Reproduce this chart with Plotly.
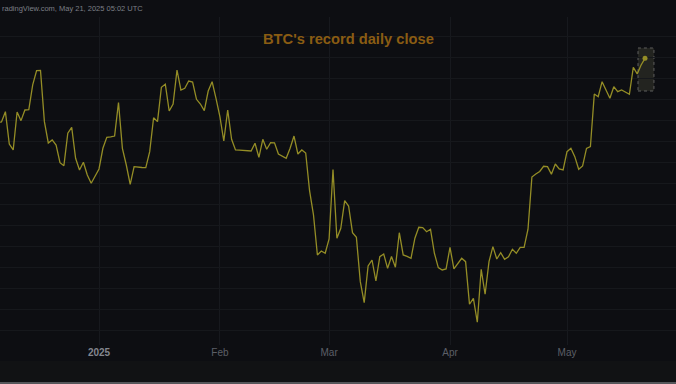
import pandas as pd
import plotly.graph_objects as go

# Daily closes (USD)
dec_2024 = [99820, 99880, 101110, 97260, 96550, 101070, 100040, 101310, 101350, 104290,
            105990, 106030, 99920, 97380, 97740, 97140, 95040, 94680, 98540, 99250,
            95560, 94170, 95080, 93570, 92580, 93370]  # Dec 6 - Dec 31
jan_2025 = [94290, 96750, 98060, 98100, 98210, 102200, 96750, 94760, 92460, 94560,
            94490, 94460, 94440, 96350, 100390, 99920, 104010, 104370, 101190, 102020,
            106070, 103690, 103890, 104760, 104640, 102580, 102020, 101230, 103570, 104680,
            102700]
feb_2025 = [100510, 97620, 101310, 97820, 96550, 96520, 96490, 96450, 96430, 97350,
            95680, 97820, 96630, 97420, 97400, 96070, 95830, 95560, 96750, 98210,
            96070, 96550, 96190, 91670, 88810, 84050, 84520, 84250]
mar_2025 = [85950, 94230, 86040, 87230, 90510, 89880, 86700, 86150, 80870, 78370,
            82740, 83450, 80950, 83840, 84170, 82460, 83860, 82580, 86700, 84050,
            83870, 83650, 86040, 87350, 87300, 86820, 87110, 84250, 82540, 82260,
            82380]
apr_2025 = [84960, 82400, 83060, 83650, 83250, 78180, 78890, 76040, 82340, 79370,
            83250, 85040, 83570, 84320, 83540, 83840, 84730, 84250, 84960, 84950,
            87110, 93330, 93690, 93990, 94610, 94560, 93670, 94880, 94290, 94170]
may_2025 = [96350, 96750, 95750, 94250, 94640, 96730, 96940, 103210, 102890, 104680,
            103690, 102700, 104080, 103490, 103700, 103420, 103180, 106390, 105600, 106670,
            107460]

closes = dec_2024 + jan_2025 + feb_2025 + mar_2025 + apr_2025 + may_2025
dates = pd.date_range("2024-12-06", periods=len(closes), freq="D")

tick_vals = ["2025-01-01", "2025-02-01", "2025-03-01", "2025-04-01", "2025-05-01"]
tick_text = ['<span style="color:#83868e"><b>2025</b></span>', "Feb", "Mar", "Apr", "May"]

title_text = "BTC's record daily close"
stamp_text = "radingView.com, May 21, 2025 05:02 UTC"

box_x = ["2025-05-19 05:00", "2025-05-23 07:00"]
box_y = [103570, 108690]

LINE = "#948d26"
PANE = "#0d0e12"

fig = go.Figure()
fig.add_trace(go.Scatter(x=dates, y=closes, mode="lines",
                         line=dict(color=LINE, width=1.3), hoverinfo="skip"))
fig.add_trace(go.Scatter(x=[dates[-1]], y=[closes[-1]], mode="markers",
                         marker=dict(color=LINE, size=5), hoverinfo="skip"))

fig.add_shape(type="rect", xref="x", yref="y", x0=box_x[0], x1=box_x[1],
              y0=box_y[0], y1=box_y[1], fillcolor="rgba(70,70,55,0.4)",
              line=dict(color="#5e5e5e", width=1, dash="dot"), layer="below")

# bottom strip and border
fig.add_shape(type="rect", xref="paper", yref="paper", x0=0, x1=1,
              y0=-(384 - 345) / 328, y1=-(361 - 345) / 328,
              fillcolor="#111214", line=dict(width=0), layer="below")
fig.add_shape(type="line", xref="paper", yref="paper", x0=0, x1=1,
              y0=-(383 - 345) / 328, y1=-(383 - 345) / 328,
              line=dict(color="#55565a", width=2))

fig.add_annotation(text=title_text, xref="paper", yref="paper",
                   x=348.5 / 676, y=1 - (39 - 17) / 328, xanchor="center", yanchor="middle",
                   showarrow=False,
                   font=dict(family="Liberation Sans, Arial", size=14.7, color="#8a5c12", weight="bold"))
fig.add_annotation(text=stamp_text, xref="paper", yref="paper",
                   x=0, y=1 + (17 - 8) / 328, xanchor="left", yanchor="middle",
                   showarrow=False,
                   font=dict(family="Liberation Sans, Arial", size=7.5, color="#7c7f86"))

fig.update_layout(
    width=676, height=384,
    margin=dict(l=0, r=0, t=17, b=39),
    paper_bgcolor=PANE, plot_bgcolor=PANE,
    showlegend=False,
    xaxis=dict(range=["2024-12-06 14:46", "2025-05-28 22:46"], tickvals=tick_vals,
               ticktext=tick_text, showgrid=True, gridcolor="#17191e", gridwidth=1,
               zeroline=False, showline=False, ticks="",
               tickfont=dict(family="Liberation Sans, Arial", size=10, color="#5c5f67")),
    yaxis=dict(range=[73330, 112380], dtick=2500, tick0=0, showticklabels=False,
               showgrid=True, gridcolor="#16181c", gridwidth=1, zeroline=False,
               showline=False, ticks=""),
)

fig.write_html("out.html", config={"displayModeBar": False},
               post_script="document.body.style.margin='0';")
